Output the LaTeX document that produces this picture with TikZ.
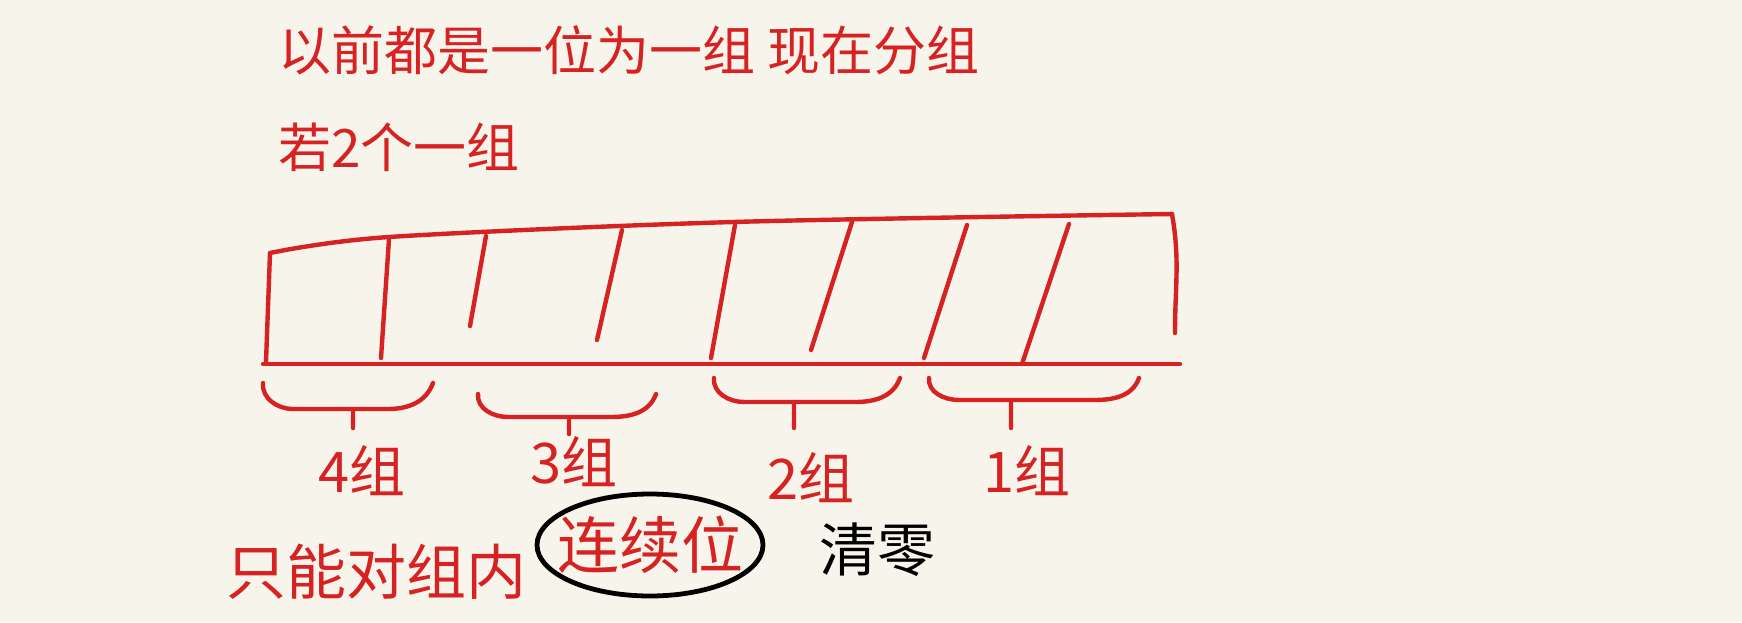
\documentclass[tikz,border=0pt]{standalone}
\usepackage{fontspec}
\newfontfamily\cjk{Noto Sans CJK SC}
\usetikzlibrary{positioning}
\definecolor{paper}{RGB}{247,245,235}
\definecolor{ink}{RGB}{214,34,34}

\begin{document}
\begin{tikzpicture}[x=0.5pt, y=-0.5pt,
  pen/.style={draw=ink, line width=2.2pt, line cap=round, line join=round},
  blackpen/.style={draw=black, line width=2.4pt, line cap=round},
  note/.style={font=\cjk\fontsize{26.5}{30}\selectfont, text=ink, inner sep=0pt},
  grp/.style={font=\cjk\fontsize{28}{32}\selectfont, text=ink, inner sep=0pt}]
\fill[paper] (0,0) rectangle (1742,622);
\useasboundingbox (0,0) rectangle (1742,622);
% heading
\node[note, anchor=west] (before) at (278,50) {以前都是一位为一组 现在分组};
\node[note, anchor=west] (pair) at (278,147) {若2个一组};
% register
\draw[pen] plot[smooth] coordinates {(270,253) (389,237) (733,222) (1172,214)};
\draw[pen] (1172,214) to[out=-80, in=90] (1175,333);
\draw[pen] (270,253) -- (266,362);
\draw[pen] (263,364) -- (1180,364);
\foreach \xt/\yt/\xb/\yb in {389/239/381/358, 486/236/470/326, 622/230/597/340,
  735/225/711/358, 852/222/811/350, 967/225/924/358, 1069/224/1022/364}
  \draw[pen] (\xt,\yt) -- (\xb,\yb);
% braces under the groups
\foreach \xa/\xb/\yt/\ym/\xt/\yb in {263/433/383/409/353/428, 478/656/394/417/569/434,
  714/900/378/402/794/428, 929/1139/378/400/1011/428}
{
  \draw[pen] (\xa,\yt) to[out=-95, in=180] (\xa+30,\ym) -- (\xt,\ym) -- (\xt,\yb);
  \draw[pen] (\xt,\ym) -- (\xb-45,\ym) to[out=0, in=-110] (\xb,\yt);
}
\node[grp] (g4) at (362,471) {4组};
\node[grp] (g3) at (574,462) {3组};
\node[grp] (g2) at (811,478) {2组};
\node[grp] (g1) at (1027,471) {1组};
% bottom remark
\node[note, font=\cjk\fontsize{30}{34}\selectfont, anchor=west] (only) at (226,572) {只能对组内};
\node[note, font=\cjk\fontsize{31}{35}\selectfont] (cont) at (650,545) {连续位};
\draw[blackpen] (cont) ellipse [x radius=113, y radius=51];
\node[note, font=\cjk\fontsize{29}{33}\selectfont, text=black] (clear) at (877,550) {清零};
\end{tikzpicture}
\end{document}
